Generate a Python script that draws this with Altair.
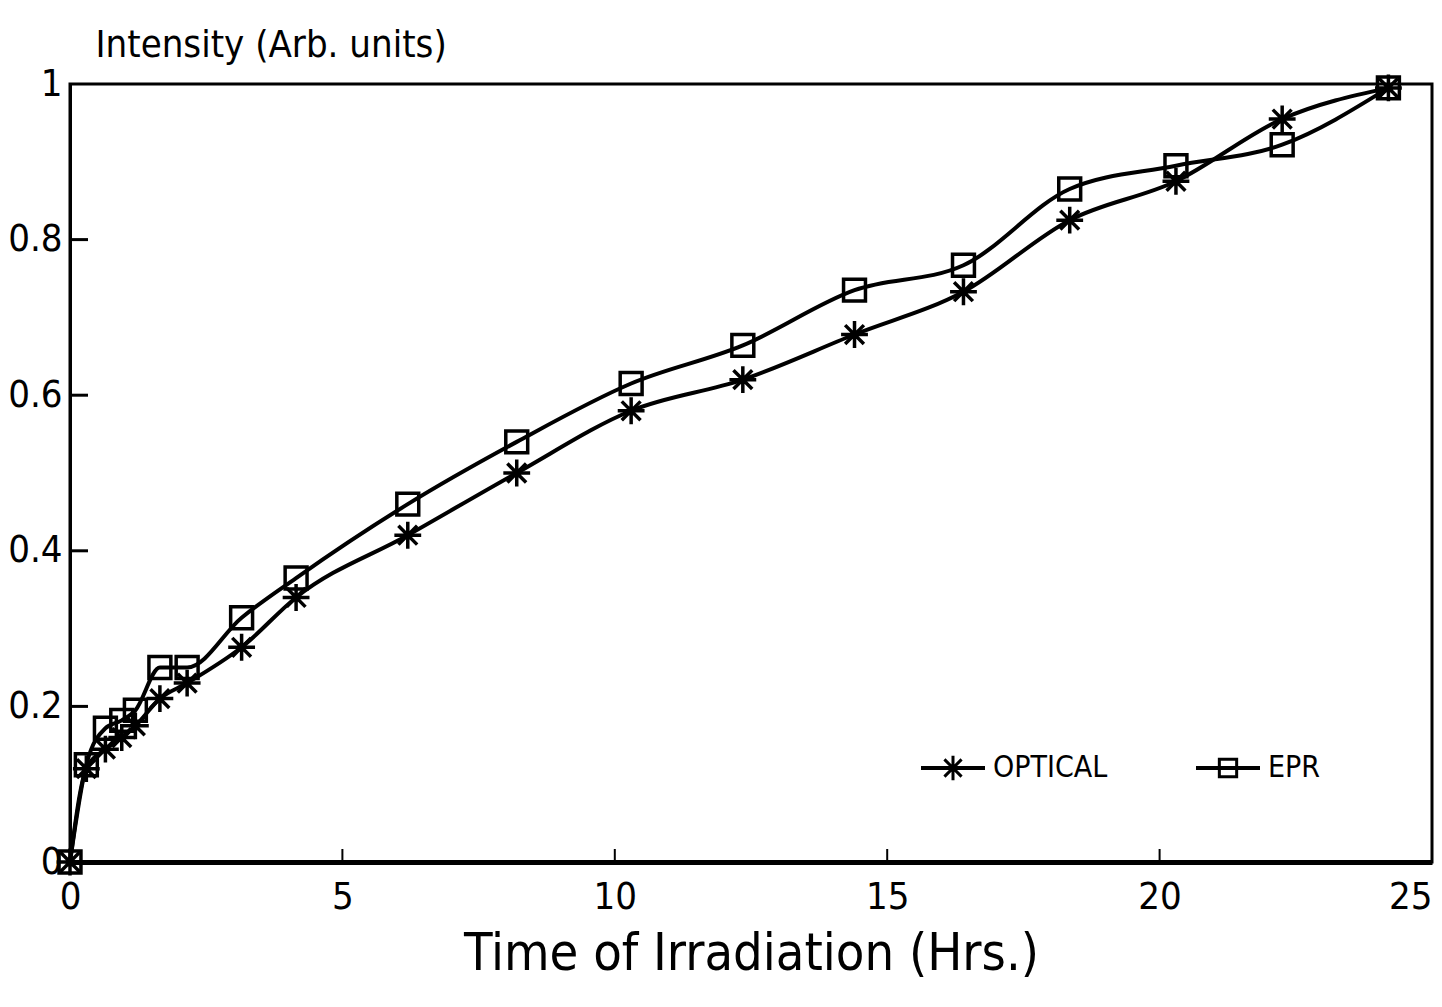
import altair as alt
import pandas as pd

# Irradiation time (hours) and normalised intensities of the two measurements
hours = [0, 0.3, 0.65, 0.95, 1.2, 1.65, 2.15, 3.15, 4.15, 6.2, 8.2, 10.3,
         12.35, 14.4, 16.4, 18.35, 20.3, 22.25, 24.2]
optical = [0, 0.12, 0.145, 0.16, 0.175, 0.21, 0.23, 0.276, 0.34, 0.42, 0.50,
           0.58, 0.62, 0.678, 0.733, 0.825, 0.875, 0.955, 0.995]
epr = [0, 0.125, 0.172, 0.182, 0.195, 0.25, 0.25, 0.314, 0.365, 0.46, 0.54,
       0.615, 0.664, 0.735, 0.767, 0.865, 0.895, 0.922, 0.995]

series_names = ["OPTICAL", "EPR"]
x_tick_values = [0, 5, 10, 15, 20, 25]
y_tick_values = [0, 0.2, 0.4, 0.6, 0.8, 1]
x_inner_ticks = [5, 10, 15, 20]
y_inner_ticks = [0.2, 0.4, 0.6, 0.8]

FONT = "DejaVu Sans Condensed"
STAR = "M-1,0L1,0M0,-1L0,1M-0.7,-0.7L0.7,0.7M-0.7,0.7L0.7,-0.7"
W, H = 1362, 778

n = len(hours)
df = pd.DataFrame({
    "hours": hours * 2,
    "value": optical + epr,
    "series": [series_names[0]] * n + [series_names[1]] * n,
})

x_scale = alt.Scale(domain=[0, 25], nice=False, zero=False)
y_scale = alt.Scale(domain=[0, 1], nice=False)

x_enc = alt.X(
    "hours:Q", scale=x_scale,
    axis=alt.Axis(
        title="Time of Irradiation (Hrs.)", values=x_tick_values, format="d",
        ticks=False, grid=False, domainColor="black", domainWidth=5,
        labelFont=FONT, labelFontSize=38, labelColor="black", labelPadding=16,
        labelFlush=False,
        labelAlign=alt.expr("datum.value == 25 ? 'right' : 'center'"),
        titleFont=FONT, titleFontSize=52, titleColor="black", titlePadding=12,
        titleFontWeight="normal",
    ),
)
y_enc = alt.Y(
    "value:Q", scale=y_scale,
    axis=alt.Axis(
        title="Intensity (Arb. units)", values=y_tick_values, format="~g",
        ticks=False, grid=False, domainColor="black", domainWidth=3,
        labelFont=FONT, labelFontSize=38, labelColor="black", labelPadding=8,
        labelFlush=False,
        titleFont=FONT, titleFontSize=38, titleColor="black",
        titleFontWeight="normal",
        titleAngle=0, titleAlign="left", titleBaseline="alphabetic",
        titleX=25, titleY=-28,
    ),
)

lines = alt.Chart(df).mark_line(
    interpolate="monotone", color="black", strokeWidth=4
).encode(x=x_enc, y=y_enc, detail="series:N")

points = alt.Chart(df).mark_point(
    filled=False, color="black", strokeWidth=3.5, opacity=1
).encode(
    x=x_enc, y=y_enc,
    shape=alt.Shape("series:N", scale=alt.Scale(domain=series_names, range=[STAR, "square"]), legend=None),
    size=alt.Size("series:N", scale=alt.Scale(domain=series_names, range=[720, 480]), legend=None),
)

# inward tick marks on the left and bottom edges
y_ticks = alt.Chart(pd.DataFrame({"v": y_inner_ticks})).mark_rule(
    color="black", strokeWidth=3
).encode(y=alt.Y("v:Q", scale=y_scale), x=alt.value(0), x2=alt.value(18))

x_ticks = alt.Chart(pd.DataFrame({"v": x_inner_ticks})).mark_rule(
    color="black", strokeWidth=2
).encode(x=alt.X("v:Q", scale=x_scale), y=alt.value(H), y2=alt.value(H - 13))


def legend_entry(label, shape, size, cx, cy):
    src = alt.Chart(pd.DataFrame({"label": [label]}))
    rule = src.mark_rule(color="black", strokeWidth=4).encode(
        x=alt.value(cx - 32), x2=alt.value(cx + 32), y=alt.value(cy))
    sym = src.mark_point(filled=False, color="black", strokeWidth=3, opacity=1,
                         shape=shape, size=size).encode(
        x=alt.value(cx), y=alt.value(cy))
    txt = src.mark_text(align="left", baseline="middle", font=FONT, fontSize=30,
                        color="black").encode(
        x=alt.value(cx + 40), y=alt.value(cy), text="label:N")
    return rule + sym + txt


legend = legend_entry(series_names[0], STAR, 600, 883, 684) + \
    legend_entry(series_names[1], "square", 300, 1158, 684)

chart = alt.layer(lines, points, y_ticks, x_ticks, legend).properties(
    width=W, height=H,
    autosize=alt.AutoSizeParams(type="none"),
    padding={"left": 70, "top": 84, "right": 10, "bottom": 145},
    background="white",
).configure_view(stroke="black", strokeWidth=3)

chart.save("out.html", embed_options={"renderer": "svg", "actions": False})
